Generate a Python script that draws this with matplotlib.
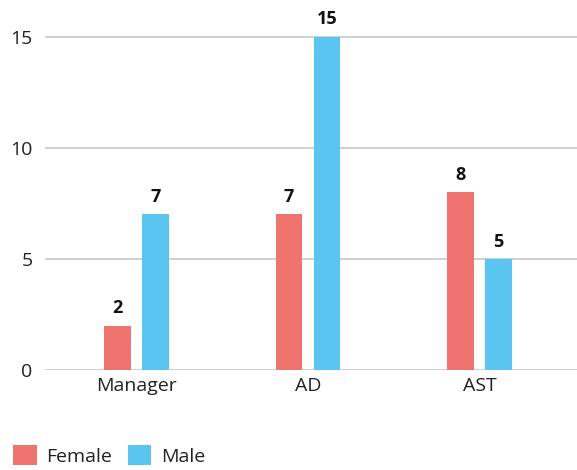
import matplotlib.pyplot as plt
import numpy as np

plt.rcParams['font.family'] = ['Open Sans', 'DejaVu Sans']

categories = ['Manager', 'AD', 'AST']
female = [2, 7, 8]
male = [7, 15, 5]
yticks = [0, 5, 10, 15]

female_color = '#EF746F'
male_color = '#5BC5F2'

fig = plt.figure(figsize=(5.77, 4.70), dpi=100)
ax = fig.add_axes([45 / 577, 100 / 470, 532 / 577, 360 / 470])

x = np.arange(len(categories))
w = 0.157
off = 0.111
b1 = ax.bar(x - off, female, w, color=female_color, label='Female', zorder=3)
b2 = ax.bar(x + off, male, w, color=male_color, label='Male', zorder=3)

for bars in (b1, b2):
    for rect in bars:
        h = rect.get_height()
        ax.annotate(f'{h:g}', (rect.get_x() + rect.get_width() / 2, h),
                    xytext=(0, 6), textcoords='offset points',
                    ha='center', va='bottom', fontsize=13, fontweight='bold', color='#111111')

ax.set_xlim(-0.534, 2.569)
ax.set_ylim(0, 16.2)
ax.set_yticks(yticks)
ax.set_xticks(x)
ax.set_xticklabels(categories)
ax.yaxis.grid(True, color='#C8C8C8', linewidth=1.2, zorder=0)
ax.tick_params(axis='both', length=0, labelsize=14, colors='#222222')
ax.tick_params(axis='y', pad=9)
ax.tick_params(axis='x', pad=5)
for s in ax.spines.values():
    s.set_visible(False)

fig.legend(handles=[b1, b2], labels=['Female', 'Male'], loc='lower left',
           bbox_to_anchor=(0.003, -0.016), ncol=2, frameon=False, fontsize=14,
           handlelength=1.2, handleheight=1.2, handletextpad=0.5, columnspacing=0.8,
           borderaxespad=0.2, labelcolor='#222222')

fig.savefig('out.png', dpi=100)
